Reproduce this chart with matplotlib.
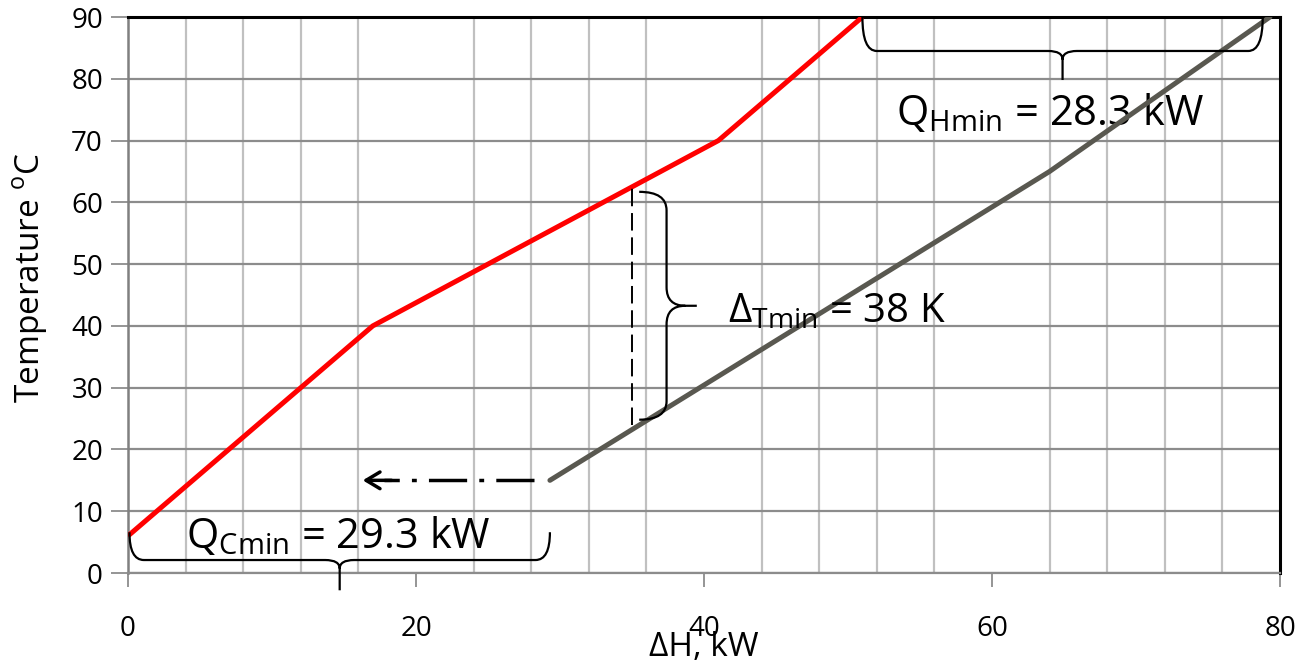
import numpy as np
import matplotlib
matplotlib.use("Agg")
import matplotlib.pyplot as plt
from matplotlib.path import Path
from matplotlib.patches import PathPatch

plt.rcParams['font.family'] = ['Open Sans', 'DejaVu Sans']

# ------------ data ---------------
hot_dH = [0, 17, 41, 51]
hot_T = [6, 40, 70, 90]
cold_dH = [29.3, 64, 79.3]
cold_T = [15, 65, 90]

x_ticks = [0, 20, 40, 60, 80]
x_tick_labels = ["0", "20", "40", "60", "80"]
y_ticks = [0, 10, 20, 30, 40, 50, 60, 70, 80, 90]

pinch_dH = 35
qc_min = 29.3
qh_min = 28.3
dt_min = 38


def brace(ax, a0, a1, base, end, tip, ru, rv, vertical=False, **kw):
    """curly brace along a0..a1, line at base, hooks to end, cusp to tip"""
    am = (a0 + a1) / 2
    s = np.sign(tip - base)
    pts = [(a0, end), (a0, base), (a0 + ru, base), (am - ru, base),
           (am, base), (am, base + s * rv), (am, tip),
           (am, base + s * rv), (am, base), (am + ru, base),
           (a1 - ru, base), (a1, base), (a1, end)]
    codes = [Path.MOVETO, Path.CURVE3, Path.CURVE3, Path.LINETO,
             Path.CURVE3, Path.CURVE3, Path.LINETO,
             Path.MOVETO, Path.CURVE3, Path.CURVE3,
             Path.LINETO, Path.CURVE3, Path.CURVE3]
    if vertical:
        pts = [(p, a) for a, p in pts]
    patch = PathPatch(Path(pts, codes), fill=False, **kw)
    ax.add_patch(patch)
    return patch


fig = plt.figure(figsize=(13, 6.68), dpi=100)
ax = fig.add_axes([128 / 1300, 95 / 668, 1152 / 1300, 556 / 668])

ax.set_xlim(0, 80)
ax.set_ylim(0, 90)

# grid
ax.set_xticks(x_ticks)
ax.set_xticklabels(x_tick_labels)
ax.set_xticks(np.arange(0, 81, 4), minor=True)
ax.set_yticks(y_ticks)
ax.grid(True, axis='x', which='minor', color='#c0c0c0', lw=1.6, zorder=0)
ax.grid(True, axis='y', which='major', color='#8c8c8c', lw=1.6, zorder=0)
ax.tick_params(axis='x', which='minor', length=0)
ax.tick_params(axis='x', which='major', length=10, width=1.3, color='#8c8c8c',
               pad=20, labelsize=20)
ax.tick_params(axis='y', length=12, width=1.3, color='#8c8c8c', pad=6, labelsize=20)
ax.set_axisbelow(True)

ax.spines['left'].set_color('#808080')
ax.spines['left'].set_linewidth(1.8)
ax.spines['bottom'].set_color('#8c8c8c')
ax.spines['bottom'].set_linewidth(1.6)
ax.spines['top'].set_color('black')
ax.spines['top'].set_linewidth(2.2)
ax.spines['right'].set_color('black')
ax.spines['right'].set_linewidth(2.2)

# composite curves
ax.plot(hot_dH, hot_T, color='#ff0000', lw=3.6, solid_capstyle='butt', zorder=3)
ax.plot(cold_dH, cold_T, color='#595850', lw=3.6, solid_capstyle='round', zorder=3)

# pinch
hot_at_pinch = np.interp(pinch_dH, hot_dH, hot_T)
cold_at_pinch = np.interp(pinch_dH, cold_dH, cold_T)
ax.plot([pinch_dH, pinch_dH], [cold_at_pinch + 0.8, hot_at_pinch], color='black',
        lw=1.4, linestyle=(0, (9, 3.5)), zorder=4)
brace(ax, cold_at_pinch + 1.6, hot_at_pinch - 0.8, 37.4, 35.5, 39.5, 3.0, 1.3,
      vertical=True, color='black', lw=1.6, zorder=4)
ax.text(41.7, 40.6, r'Δ$_{\mathregular{Tmin}}$ = %d K' % dt_min, fontsize=29,
        va='baseline', ha='left', zorder=5)

# shifted cold start arrow
ax.plot([cold_dH[0] - 1.1, 17.8], [cold_T[0], cold_T[0]], color='black', lw=2.5,
        linestyle=(0, (11, 3.5, 1.4, 3.5)), zorder=4)
ax.annotate('', xy=(16.3, cold_T[0]), xytext=(18.3, cold_T[0]),
            arrowprops=dict(arrowstyle='->,head_length=0.5,head_width=0.3',
                            color='black', lw=2.5, mutation_scale=20,
                            shrinkA=0, shrinkB=0), zorder=4)

# Qc min
brace(ax, 0.1, qc_min, 2.1, 6.6, -2.8, 1.0, 1.4, color='black', lw=1.6,
      clip_on=False, zorder=4)
ax.text(4.0, 4.0, r'Q$_{\mathregular{Cmin}}$ = %.1f kW' % qc_min, fontsize=30,
        va='baseline', ha='left', zorder=5)

# Qh min
brace(ax, hot_dH[-1], hot_dH[-1] + qh_min - 0.5, 84.5, 90, 79.8, 1.0, 1.4,
      color='black', lw=1.6, zorder=4)
ax.text(53.3, 72.5, r'Q$_{\mathregular{Hmin}}$ = %.1f kW' % qh_min, fontsize=30,
        va='baseline', ha='left', zorder=2)

ax.set_xlabel('ΔH, kW', fontsize=24)
ax.xaxis.set_label_coords(0.5, -0.105)
ax.set_ylabel(r'Temperature $^{\mathregular{o}}$C', fontsize=24)
ax.yaxis.set_label_coords(-0.068, 0.53)

fig.savefig('out.png', dpi=100)
